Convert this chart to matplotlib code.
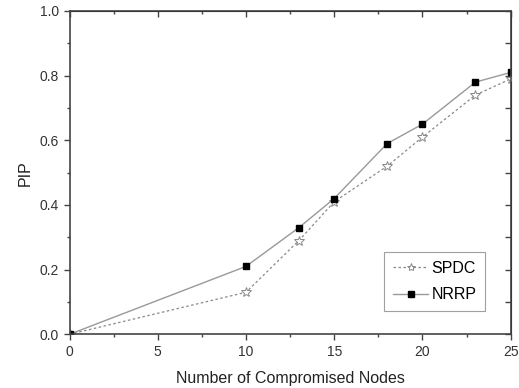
import numpy as np
import matplotlib
matplotlib.use('Agg')
from matplotlib import pyplot as plt
from matplotlib.ticker import MultipleLocator, FormatStrFormatter

nodes = [0, 10, 13, 15, 18, 20, 23, 25]
spdc = [0.0, 0.13, 0.29, 0.41, 0.52, 0.61, 0.74, 0.79]
nrrp = [0.0, 0.21, 0.33, 0.42, 0.59, 0.65, 0.78, 0.81]

plt.rcParams['font.family'] = ['Liberation Sans', 'DejaVu Sans']

fig = plt.figure(figsize=(5.19, 3.88), dpi=100)
ax = fig.add_axes([69.5 / 519, 1 - 334.3 / 388, (510.7 - 69.5) / 519, (334.3 - 11) / 388])

axis_col = '#444444'
ax.plot(nodes, spdc, linestyle=(0, (2, 2)), color='#888888', linewidth=0.9,
        marker='*', markersize=7, markerfacecolor='white', markeredgecolor='#888888',
        markeredgewidth=0.7, label='SPDC')
ax.plot(nodes, nrrp, linestyle='-', color='#999999', linewidth=1.0,
        marker='s', markersize=5, markerfacecolor='black', markeredgecolor='black',
        label='NRRP')

ax.set_xlim(0, 25)
ax.set_ylim(0, 1.0)
ax.xaxis.set_major_locator(MultipleLocator(5))
ax.xaxis.set_minor_locator(MultipleLocator(2.5))
ax.yaxis.set_major_locator(MultipleLocator(0.2))
ax.yaxis.set_minor_locator(MultipleLocator(0.1))
ax.yaxis.set_major_formatter(FormatStrFormatter('%.1f'))

for s in ax.spines.values():
    s.set_color(axis_col)
    s.set_linewidth(1.2)

ax.tick_params(which='both', direction='out', color=axis_col, labelcolor='#333333',
               labelsize=10, width=1.0)
ax.tick_params(which='major', length=4)
ax.tick_params(which='minor', length=2.5)

# inward ticks on top / right, no labels
sx = ax.secondary_xaxis('top')
sx.xaxis.set_major_locator(MultipleLocator(5))
sx.xaxis.set_minor_locator(MultipleLocator(2.5))
sx.tick_params(which='both', direction='in', color=axis_col, labeltop=False, width=1.0)
sx.tick_params(which='major', length=4)
sx.tick_params(which='minor', length=2.5)
sy = ax.secondary_yaxis('right')
sy.yaxis.set_major_locator(MultipleLocator(0.2))
sy.yaxis.set_minor_locator(MultipleLocator(0.1))
sy.tick_params(which='both', direction='in', color=axis_col, labelright=False, width=1.0)
sy.tick_params(which='major', length=4)
sy.tick_params(which='minor', length=4)

ax.set_xlabel('Number of Compromised Nodes', fontsize=11.5, color='#222222', labelpad=9)
ax.set_ylabel('PIP', fontsize=11.5, color='#222222', labelpad=5)

leg = ax.legend(loc='lower right', bbox_to_anchor=(0.942, 0.072), borderaxespad=0,
                fontsize=11.5, frameon=True, fancybox=False, handlelength=2.2,
                borderpad=0.55, labelspacing=0.7, handletextpad=0.2, markerscale=0.85)
leg.get_frame().set_edgecolor('#888888')
leg.get_frame().set_linewidth(0.8)

plt.savefig('out.png', dpi=100)
